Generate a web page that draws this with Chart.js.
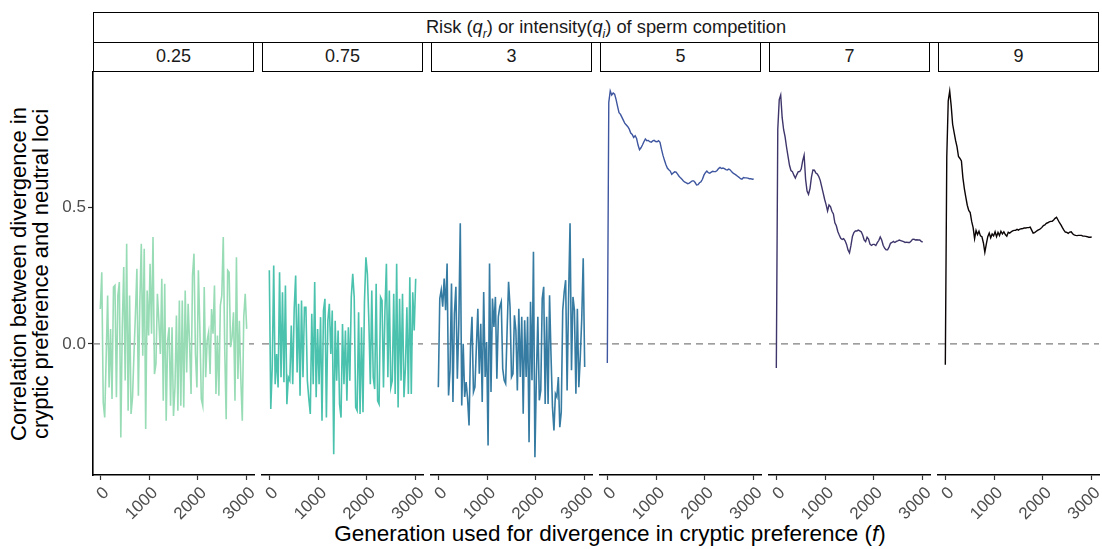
<!DOCTYPE html>
<html>
<head>
<meta charset="utf-8">
<script src="https://cdn.jsdelivr.net/npm/chart.js@4.4.1/dist/chart.umd.min.js"></script>
<style>
  body { margin: 0; background: #fff; font-family: "Liberation Sans", Arial, sans-serif; }
  #fig { position: relative; width: 1102px; height: 549px; overflow: hidden; }
  .strip { position: absolute; box-sizing: border-box; border: 1.6px solid #000; background: #fff;
           text-align: center; color: #1a1a1a; font-size: 18px; }
  canvas { position: absolute; }
  #ytitle { position: absolute; width: 460px; left: -200px; top: 252px; text-align: center;
            font-size: 22px; line-height: 22px; color: #000; transform: rotate(-90deg); }
  #xtitle { position: absolute; left: 107px; width: 1006px; top: 521px; text-align: center;
            font-size: 22.5px; color: #000; }
</style>
</head>
<body>
<div id="fig">
  <div class="strip" style="left:93px; top:12px; width:1006px; height:31px; line-height:28px; font-size:18.3px; padding-left:20px;">
    Risk (<i>q</i><sub style="font-size:12px"><i>r</i></sub>) or intensity(<i>q</i><sub style="font-size:12px"><i>i</i></sub>) of sperm competition
  </div>
  <div id="ytitle">Correlation between divergence in<br>cryptic preference and neutral loci</div>
  <div id="xtitle">Generation used for divergence in cryptic preference (<i>f</i>)</div>
</div>
<script>
// facet labels (sperm competition level) and line colours
const panelLabels = ["0.25", "0.75", "3", "5", "7", "9"];
const panelColors = ["#98dcb6", "#4bc2ad", "#357ba2", "#3e56a0", "#3e356b", "#0b0405"];

// axis ticks
const xTicks = [0, 1000, 2000, 3000];
const xTickLabels = ["0", "1000", "2000", "3000"];
const yTicks = [0, 0.5];
const yTickLabels = ["0.0", "0.5"];

// generation f at which divergence was measured
const generations = [
  0, 30, 60, 90, 120, 150, 180, 210, 240, 270,
  300, 330, 360, 390, 420, 450, 480, 510, 540, 570,
  600, 630, 660, 690, 720, 750, 780, 810, 840, 870,
  900, 930, 960, 990, 1020, 1050, 1080, 1110, 1140, 1170,
  1200, 1230, 1260, 1290, 1320, 1350, 1380, 1410, 1440, 1470,
  1500, 1530, 1560, 1590, 1620, 1650, 1680, 1710, 1740, 1770,
  1800, 1830, 1860, 1890, 1920, 1950, 1980, 2010, 2040, 2070,
  2100, 2130, 2160, 2190, 2220, 2250, 2280, 2310, 2340, 2370,
  2400, 2430, 2460, 2490, 2520, 2550, 2580, 2610, 2640, 2670,
  2700, 2730, 2760, 2790, 2820, 2850, 2880, 2910, 2940, 2970,
  3000
];

// correlation per competition level
const corr025 = [
  0.128, 0.262, -0.214, -0.269, -0.049, 0.177, -0.159, 0.055, -0.201, 0.208,
  0.214, -0.195, 0.177, 0.226, -0.342, 0.061, 0.281, -0.134, 0.366, -0.244,
  0.177, -0.256, -0.195, -0.037, 0.110, 0.275, -0.189, 0.153, 0.366, -0.043,
  0.348, -0.311, 0.195, 0.031, 0.293, 0.037, 0.391, -0.110, -0.073, 0.183,
  0.085, -0.037, 0.238, -0.208, 0.220, -0.281, 0.012, 0.061, -0.226, 0.061,
  -0.263, -0.159, 0.104, -0.244, 0.159, -0.226, 0.159, -0.232, 0.195, -0.104,
  0.147, 0.000, -0.183, 0.250, 0.330, -0.037, -0.159, 0.269, 0.061, -0.201,
  -0.226, 0.208, -0.122, 0.012, 0.043, -0.110, 0.128, 0.037, 0.214, -0.183,
  0.031, -0.189, 0.140, 0.177, 0.391, -0.018, -0.275, 0.269, 0.262, -0.012,
  0.024, 0.116, -0.208, 0.317, -0.128, 0.085, -0.128, -0.281, 0.098, 0.183,
  0.055
];
const corr075 = [
  0.269, -0.238, -0.085, 0.287, -0.147, -0.037, -0.159, 0.262, -0.122, 0.189,
  -0.140, 0.214, -0.220, -0.122, -0.134, 0.067, -0.147, 0.128, 0.250, -0.104,
  0.147, -0.189, 0.159, -0.122, 0.134, 0.134, -0.134, -0.201, -0.256, 0.110,
  -0.147, 0.226, -0.195, 0.055, -0.147, 0.098, -0.281, 0.122, 0.165, -0.269,
  0.085, 0.147, -0.037, 0.122, -0.403, 0.085, -0.134, 0.049, -0.220, -0.269,
  0.073, -0.147, 0.049, -0.208, 0.061, -0.134, 0.171, 0.256, 0.171, -0.232,
  -0.244, 0.116, -0.256, 0.061, -0.250, 0.153, 0.317, 0.256, 0.085, -0.147,
  0.195, -0.122, -0.165, 0.220, -0.208, -0.220, 0.171, 0.159, -0.159, 0.122,
  0.293, -0.122, 0.195, -0.159, -0.134, 0.183, -0.183, 0.293, -0.232, 0.165,
  -0.134, 0.183, -0.195, -0.085, 0.134, -0.183, 0.244, -0.183, 0.189, 0.049,
  0.238
];
const corr3 = [
  -0.158, 0.166, 0.197, 0.136, 0.239, 0.123, 0.294, -0.188, -0.096, 0.221,
  -0.212, 0.111, 0.209, -0.127, 0.074, 0.441, -0.225, 0.001, -0.194, -0.139,
  -0.200, -0.298, -0.011, 0.099, -0.176, -0.158, -0.011, 0.129, -0.109, 0.074,
  -0.212, 0.190, -0.121, 0.007, -0.371, 0.294, -0.176, 0.166, 0.062, 0.172,
  -0.127, 0.099, 0.136, 0.154, -0.090, -0.133, -0.145, 0.050, 0.227, 0.136,
  -0.121, -0.109, 0.105, 0.050, -0.170, 0.129, -0.121, 0.099, -0.255, 0.087,
  -0.121, 0.099, -0.359, 0.154, -0.133, 0.337, -0.414, -0.121, 0.099, -0.206,
  -0.170, 0.166, 0.209, -0.219, 0.099, -0.219, 0.178, -0.042, -0.231, -0.316,
  -0.182, -0.194, -0.121, -0.304, -0.249, 0.123, 0.190, 0.233, -0.170, 0.166,
  0.441, -0.096, 0.172, 0.123, -0.182, 0.129, -0.158, -0.048, 0.093, 0.313,
  -0.084
];
const corr5 = [
  -0.070, 0.883, 0.925, 0.910, 0.917, 0.913, 0.893, 0.868, 0.845, 0.839,
  0.828, 0.817, 0.806, 0.800, 0.794, 0.785, 0.771, 0.766, 0.755, 0.761,
  0.751, 0.727, 0.710, 0.717, 0.727, 0.739, 0.749, 0.743, 0.744, 0.739,
  0.737, 0.742, 0.744, 0.740, 0.739, 0.743, 0.737, 0.712, 0.690, 0.672,
  0.656, 0.643, 0.637, 0.632, 0.620, 0.625, 0.629, 0.628, 0.621, 0.613,
  0.607, 0.602, 0.596, 0.591, 0.589, 0.586, 0.588, 0.592, 0.596, 0.596,
  0.590, 0.581, 0.582, 0.589, 0.593, 0.602, 0.617, 0.626, 0.632, 0.626,
  0.624, 0.628, 0.631, 0.630, 0.630, 0.634, 0.641, 0.645, 0.641, 0.643,
  0.641, 0.637, 0.636, 0.639, 0.636, 0.629, 0.624, 0.621, 0.617, 0.613,
  0.609, 0.604, 0.602, 0.608, 0.607, 0.607, 0.606, 0.604, 0.604, 0.602,
  0.603
];
const corr7 = [
  -0.088, 0.785, 0.893, 0.910, 0.827, 0.783, 0.757, 0.719, 0.686, 0.653,
  0.634, 0.630, 0.617, 0.606, 0.619, 0.630, 0.630, 0.639, 0.669, 0.690,
  0.602, 0.559, 0.547, 0.568, 0.610, 0.636, 0.635, 0.625, 0.621, 0.612,
  0.598, 0.575, 0.552, 0.529, 0.509, 0.486, 0.508, 0.502, 0.485, 0.475,
  0.443, 0.432, 0.411, 0.398, 0.386, 0.382, 0.385, 0.377, 0.364, 0.343,
  0.333, 0.360, 0.393, 0.407, 0.413, 0.413, 0.416, 0.413, 0.410, 0.398,
  0.380, 0.374, 0.390, 0.383, 0.365, 0.360, 0.364, 0.364, 0.360, 0.370,
  0.378, 0.391, 0.380, 0.361, 0.350, 0.344, 0.344, 0.354, 0.368, 0.371,
  0.375, 0.371, 0.375, 0.377, 0.380, 0.378, 0.376, 0.374, 0.371, 0.372,
  0.371, 0.371, 0.375, 0.382, 0.383, 0.380, 0.381, 0.380, 0.380, 0.375,
  0.372
];
const corr9 = [
  -0.076, 0.684, 0.889, 0.924, 0.871, 0.803, 0.773, 0.744, 0.720, 0.685,
  0.678, 0.669, 0.608, 0.568, 0.537, 0.507, 0.488, 0.480, 0.448, 0.425,
  0.385, 0.415, 0.400, 0.412, 0.395, 0.392, 0.370, 0.335, 0.365, 0.392,
  0.405, 0.388, 0.402, 0.395, 0.410, 0.392, 0.408, 0.396, 0.412, 0.402,
  0.410, 0.400, 0.394, 0.408, 0.405, 0.410, 0.413, 0.415, 0.415, 0.419,
  0.416, 0.420, 0.421, 0.422, 0.424, 0.424, 0.425, 0.425, 0.427, 0.416,
  0.405, 0.407, 0.411, 0.415, 0.418, 0.421, 0.426, 0.433, 0.435, 0.441,
  0.443, 0.446, 0.448, 0.448, 0.453, 0.459, 0.463, 0.453, 0.443, 0.435,
  0.425, 0.416, 0.409, 0.408, 0.404, 0.409, 0.410, 0.403, 0.399, 0.397,
  0.396, 0.397, 0.397, 0.397, 0.394, 0.394, 0.393, 0.392, 0.390, 0.390,
  0.391
];
const panelSeries = [corr025, corr075, corr3, corr5, corr7, corr9];

Chart.defaults.font.family = '"Liberation Sans", Arial, sans-serif';
Chart.defaults.color = "#4d4d4d";

// dashed reference line at zero
const zeroLine = {
  id: "zeroLine",
  beforeDatasetsDraw(chart) {
    const { ctx, chartArea } = chart;
    const y = chart.scales.y.getPixelForValue(0);
    ctx.save();
    ctx.strokeStyle = "#7f7f7f";
    ctx.lineWidth = 1.2;
    ctx.setLineDash([7, 5]);
    ctx.beginPath();
    ctx.moveTo(chartArea.left, y);
    ctx.lineTo(chartArea.right, y);
    ctx.stroke();
    ctx.restore();
  },
};

const fig = document.getElementById("fig");
const PANEL_W = 161, PANEL_TOP = 72, PANEL_H = 403, AXIS_H = 60, YAXIS_W = 60, PAD = 25, TOP_PAD = 14;

panelSeries.forEach((series, i) => {
  const left = 93 + i * 169;

  // facet strip
  const strip = document.createElement("div");
  strip.className = "strip";
  strip.style.cssText = `left:${left}px; top:42px; width:${PANEL_W}px; height:30px; line-height:27px;`;
  strip.textContent = panelLabels[i];
  fig.appendChild(strip);

  const first = i === 0;
  const canvas = document.createElement("canvas");
  canvas.width = PANEL_W + PAD + (first ? YAXIS_W : PAD);
  canvas.height = TOP_PAD + PANEL_H + AXIS_H;
  canvas.style.left = (left - (first ? YAXIS_W : PAD)) + "px";
  canvas.style.top = (PANEL_TOP - TOP_PAD) + "px";
  fig.appendChild(canvas);

  new Chart(canvas, {
    type: "line",
    data: {
      labels: generations,
      datasets: [{
        data: series,
        borderColor: panelColors[i],
        borderWidth: i < 3 ? 1.6 : 1.4,
        pointRadius: 0,
        tension: 0,
        fill: false,
      }],
    },
    options: {
      responsive: false,
      animation: false,
      devicePixelRatio: 1,
      layout: { padding: { left: first ? 0 : PAD, right: PAD, top: TOP_PAD, bottom: 0 } },
      plugins: { legend: { display: false }, tooltip: { enabled: false } },
      scales: {
        x: {
          type: "linear",
          min: -150,
          max: 3150,
          afterBuildTicks: (s) => { s.ticks = xTicks.map((v) => ({ value: v })); },
          afterFit: (s) => { s.height = AXIS_H; },
          ticks: {
            minRotation: 45,
            maxRotation: 45,
            padding: 3,
            labelOffset: 6,
            font: { size: 17 },
            color: "#4d4d4d",
            callback: (v) => xTickLabels[xTicks.indexOf(v)],
          },
          grid: { drawOnChartArea: false, drawTicks: true, tickLength: 5, tickColor: "#333", tickWidth: 1.2 },
          border: { display: true, color: "#000", width: 1.6 },
        },
        y: {
          display: first,
          min: -0.479,
          max: 0.994,
          afterBuildTicks: (s) => { s.ticks = yTicks.map((v) => ({ value: v })); },
          afterFit: (s) => { if (first) s.width = YAXIS_W; },
          ticks: {
            padding: 2,
            font: { size: 17 },
            color: "#4d4d4d",
            callback: (v) => yTickLabels[yTicks.indexOf(v)],
          },
          grid: { drawOnChartArea: false, drawTicks: true, tickLength: 5, tickColor: "#333", tickWidth: 1.2 },
          border: { display: true, color: "#000", width: 1.6 },
        },
      },
    },
    plugins: [zeroLine],
  });
});
</script>
</body>
</html>
